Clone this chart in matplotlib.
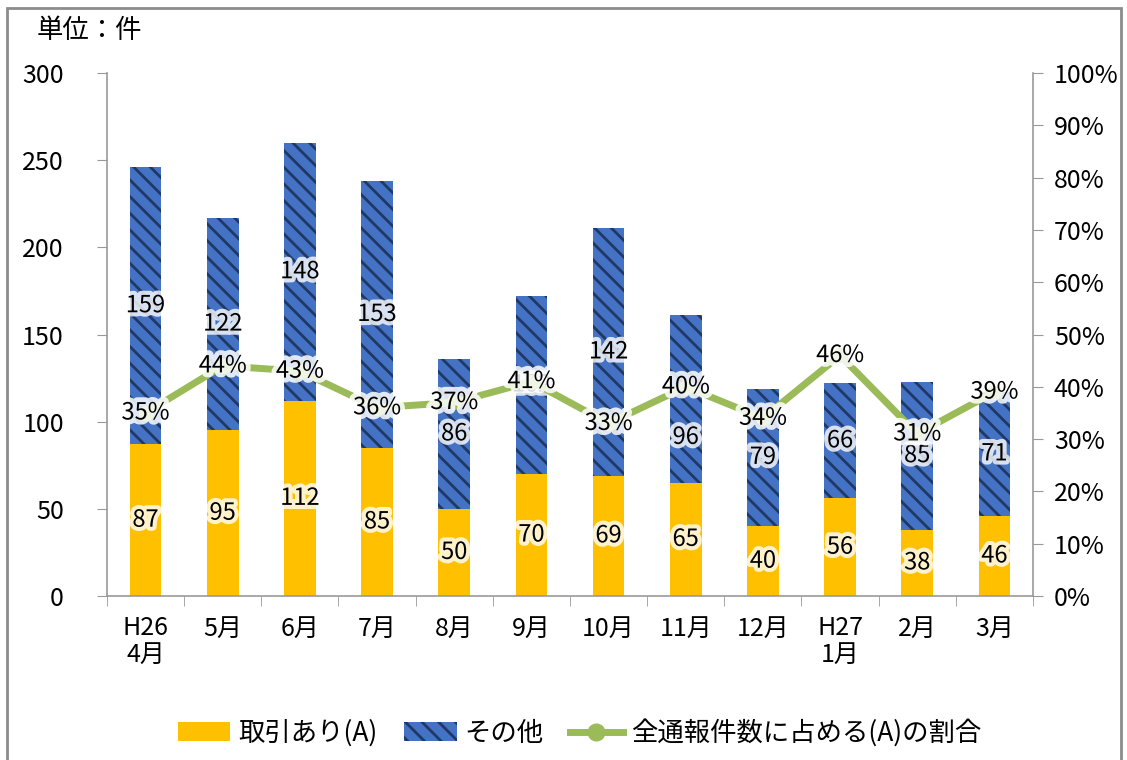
import matplotlib
matplotlib.use('Agg')
import matplotlib.pyplot as plt
import matplotlib.patheffects as pe
from matplotlib.patches import Rectangle, Patch
from matplotlib.lines import Line2D
from matplotlib.ticker import FixedLocator, PercentFormatter
import numpy as np

plt.rcParams['font.family'] = ['Noto Sans CJK JP', 'DejaVu Sans']
plt.rcParams['font.size'] = 17
plt.rcParams['hatch.linewidth'] = 2.0

# データ
months = ['H26\n4月', '5月', '6月', '7月', '8月', '9月', '10月', '11月', '12月', 'H27\n1月', '2月', '3月']
torihiki = [87, 95, 112, 85, 50, 70, 69, 65, 40, 56, 38, 46]
sonota = [159, 122, 148, 153, 86, 102, 142, 96, 79, 66, 85, 71]
ratio = [35, 44, 43, 36, 37, 41, 33, 40, 34, 46, 31, 39]

c_yellow = '#FFC000'
c_blue = '#4472C4'
c_stripe = '#1F3864'
c_green = '#9BBB59'
c_axis = '#999999'

fig = plt.figure(figsize=(11.27, 7.6), dpi=100)
ax = fig.add_axes([0.0949, 0.2158, 0.8217, 0.6881])
ax2 = ax.twinx()

x = np.arange(len(months))
w = 0.41
glow = [pe.withStroke(linewidth=6, foreground='white', alpha=0.8)]

ax.bar(x, torihiki, w, color=c_yellow, linewidth=0)
ax.bar(x, sonota, w, bottom=torihiki, color=c_blue, edgecolor=c_stripe,
       hatch='\\\\', linewidth=0)

for i in range(len(x)):
    ax.text(x[i], torihiki[i] / 2, str(torihiki[i]), ha='center', va='center',
            fontsize=17, path_effects=glow)
    ymid = torihiki[i] + sonota[i] / 2
    if i == 7:
        # 11月のラベルは割合ラベルと重ならないよう下へずらす
        ymid -= 22
    ax.text(x[i], ymid, str(sonota[i]), ha='center', va='center',
            fontsize=17, path_effects=glow)

r = np.array(ratio) / 100
ax2.plot(x, r, color=c_green, lw=5, marker='o', ms=10, mfc=c_green, mec=c_green)
for i in range(len(x)):
    ax2.text(x[i], r[i], f'{ratio[i]}%', ha='center', va='center', fontsize=17,
             path_effects=[pe.withStroke(linewidth=7, foreground='white', alpha=0.85)])

ax.set_xlim(-0.5, len(months) - 0.5)
ax.set_ylim(0, 300)
ax.set_yticks(np.arange(0, 301, 50))
ax2.set_ylim(0, 1)
ax2.set_yticks(np.arange(0, 1.01, 0.1))
ax2.yaxis.set_major_formatter(PercentFormatter(1.0, decimals=0))

ax.set_xticks(x)
ax.set_xticklabels(months, linespacing=1.0, va='top')
ax.xaxis.set_minor_locator(FixedLocator(np.arange(-0.5, len(months), 1)))
ax.tick_params(axis='x', which='major', length=0, pad=14, labelsize=18)
ax.tick_params(axis='x', which='minor', length=7, color=c_axis, direction='out')
ax.tick_params(axis='y', length=7, color=c_axis, pad=24, labelsize=18)
ax2.tick_params(axis='y', length=7, color=c_axis, pad=8, labelsize=18)

for a in (ax, ax2):
    a.spines['top'].set_visible(False)
    for s in ('left', 'right', 'bottom'):
        a.spines[s].set_color(c_axis)
        a.spines[s].set_linewidth(1.2)
ax.spines['right'].set_visible(False)
ax2.spines['left'].set_visible(False)
ax2.spines['bottom'].set_visible(False)

fig.text(37 / 1127, 1 - 30 / 760, '単位：件', fontsize=19, va='center', ha='left')

handles = [
    Patch(facecolor=c_yellow, linewidth=0),
    Patch(facecolor=c_blue, edgecolor=c_stripe, hatch='\\\\', linewidth=0),
    Line2D([0], [0], color=c_green, lw=5, marker='o', ms=12, mfc=c_green, mec=c_green),
]
fig.legend(handles, ['取引あり(A)', 'その他', '全通報件数に占める(A)の割合'],
           loc='center', bbox_to_anchor=(0.514, 1 - 733 / 760), ncol=3,
           frameon=False, fontsize=19, handlelength=2.0, handleheight=0.7,
           columnspacing=1.0, handletextpad=0.3)

fig.patches.append(Rectangle((7 / 1127, -0.02), 1114 / 1127, 1.02 - 8 / 760,
                             transform=fig.transFigure, fill=False,
                             edgecolor='#8C8C8C', linewidth=2))

fig.savefig('out.png', dpi=100)
